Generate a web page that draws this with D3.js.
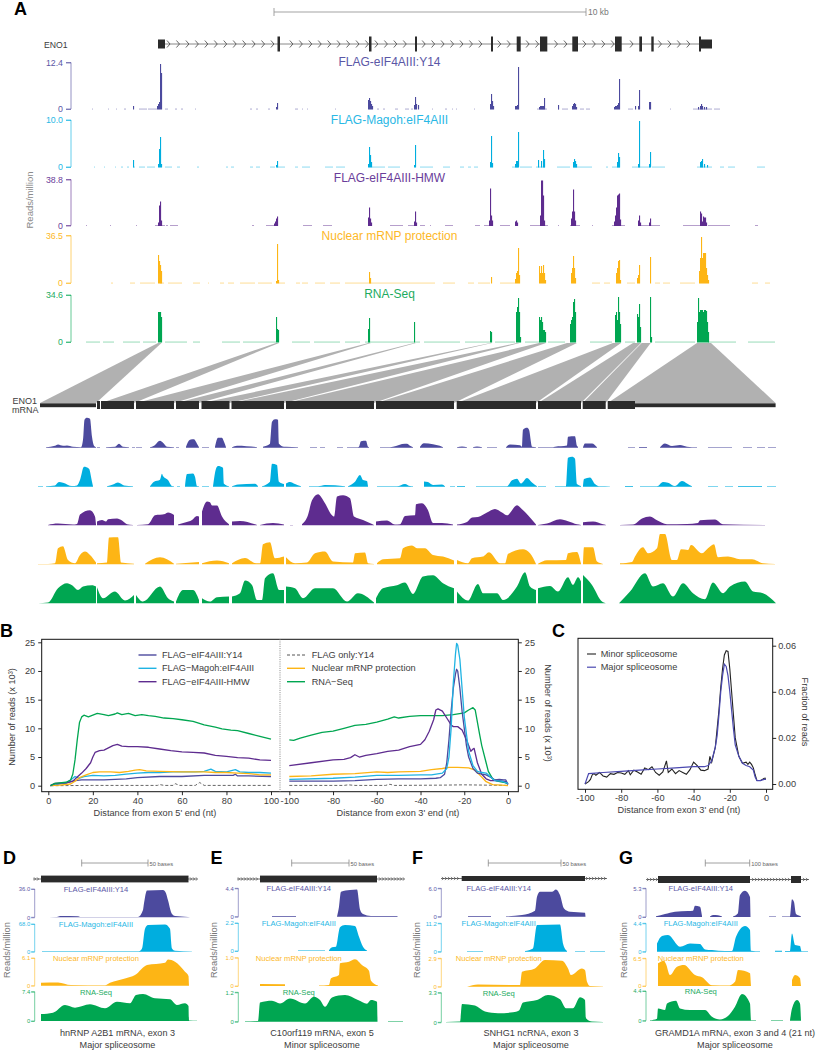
<!DOCTYPE html>
<html><head><meta charset="utf-8">
<script src="https://cdn.jsdelivr.net/npm/d3@7"></script>
<style>html,body{margin:0;padding:0;background:#fff}svg{display:block;font-family:"Liberation Sans",Arial,sans-serif}</style>
</head><body><svg id="c" width="816" height="1050"></svg>
<script>
// ---------- DATA ----------
const trackNames = ["FLAG-eIF4AIII:Y14","FLAG-Magoh:eIF4AIII","FLAG-eIF4AIII-HMW","Nuclear mRNP protection","RNA-Seq"];
const genomeMax = ["12.4","10.0","38.8","36.5","34.6"];
// genomic tracks: [position, signal]
const gY14 = [[157,3],[158,5],[159,7],[160,45],[161,36],[276,2],[277,6],[368,9],[369,11],[370,8],[371,5],[372,3],[414,4],[415,12],[416,5],[418,4],[133,3],[490,5],[491,15],[492,8],[493,3],[515,3],[516,3],[517,4],[518,42],[539,2],[540,3],[541,3],[542,3],[543,3],[544,11],[558,4],[572,3],[573,5],[574,6],[575,5],[576,2],[614,2],[615,3],[616,3],[617,4],[618,6],[619,30],[635,3],[638,3],[639,19],[649,7],[650,7],[698,2],[700,3],[701,5],[702,3],[704,2],[706,2]];
const gMagoh = [[133,7],[158,3],[159,18],[160,30],[161,3],[276,2],[277,6],[368,3],[369,20],[370,12],[371,5],[414,2],[415,22],[490,5],[491,31],[492,4],[515,3],[516,6],[517,6],[518,35],[538,7],[541,6],[543,17],[544,8],[573,5],[574,8],[575,6],[576,3],[617,5],[618,14],[619,10],[638,3],[639,46],[649,3],[650,15],[700,5],[701,6],[702,8],[704,3],[707,2]];
const gHMW = [[158,3],[159,20],[160,24],[161,5],[274,2],[275,4],[276,7],[277,9],[368,8],[369,18],[370,7],[371,3],[414,4],[415,14],[416,3],[489,5],[490,37],[491,10],[492,5],[515,4],[516,5],[517,3],[540,10],[541,45],[542,45],[543,30],[544,5],[571,7],[572,14],[573,36],[574,14],[575,5],[614,4],[615,10],[616,18],[617,30],[618,31],[619,32],[620,6],[638,5],[639,10],[640,3],[649,3],[650,7],[700,14],[701,12],[702,4],[703,9],[704,8],[705,8],[706,3]];
const gNuclear = [[158,28],[159,22],[160,18],[161,12],[276,2],[277,39],[278,3],[369,11],[370,5],[491,6],[515,4],[516,10],[517,12],[518,35],[519,8],[539,17],[540,10],[541,17],[542,10],[543,18],[544,10],[545,3],[571,10],[572,15],[573,27],[574,15],[575,5],[616,10],[617,15],[618,22],[619,23],[620,3],[637,5],[638,8],[639,18],[650,26],[699,12],[700,25],[701,46],[702,25],[703,30],[704,30],[705,30],[706,15],[707,8],[708,3]];
const gRNA = [[158,30],[159,30],[160,30],[161,25],[276,25],[277,13],[278,12],[368,13],[369,24],[414,20],[490,11],[491,10],[516,30],[517,35],[518,44],[519,30],[520,5],[539,25],[540,22],[541,25],[542,20],[543,12],[544,12],[545,10],[570,18],[571,22],[572,25],[573,40],[574,43],[575,30],[615,27],[616,30],[617,22],[618,45],[619,30],[620,18],[637,28],[638,25],[639,38],[640,15],[650,45],[651,5],[697,20],[698,44],[699,30],[700,32],[701,32],[702,32],[703,30],[704,32],[705,32],[706,31],[707,20],[708,10]];
// low background signal spans: [start, end]
const lowY14 = [[92,93],[108,109],[116,117],[124,126],[139,147],[148,157],[165,168],[175,177],[181,183],[195,196],[250,252],[256,258],[268,270],[295,298],[302,303],[307,308],[335,336],[377,379],[383,385],[395,398],[405,409],[411,413],[432,433],[445,447],[452,453],[456,457],[474,475],[537,547],[558,559],[562,568],[580,584],[586,590],[628,633],[670,671],[693,712],[714,720]];
const lowMagoh = [[94,95],[104,105],[115,116],[121,123],[127,129],[133,135],[139,145],[147,155],[165,172],[177,180],[197,199],[226,228],[231,234],[250,253],[256,260],[270,275],[277,285],[295,298],[302,310],[325,333],[336,345],[372,385],[388,400],[420,433],[443,450],[460,464],[468,471],[474,478],[512,518],[520,532],[536,545],[557,570],[573,592],[606,608],[612,620],[632,650],[652,665],[697,712],[720,724],[728,735],[757,765]];
const lowHMW = [[86,87],[110,111],[136,137],[155,165],[166,168],[170,178],[252,254],[266,278],[303,312],[323,332],[390,403],[408,415],[420,425],[430,431],[445,453],[475,480],[484,490],[500,510],[530,548],[558,559],[570,580],[592,593],[612,625],[640,660],[683,700],[708,730],[755,758]];
const lowNuclear = [[111,113],[130,135],[140,155],[160,164],[168,182],[193,200],[208,209],[220,224],[228,234],[240,255],[258,272],[279,285],[296,300],[302,308],[315,325],[330,340],[345,400],[400,435],[443,455],[468,474],[478,490],[500,515],[592,600],[604,610],[627,635],[655,660],[663,670],[680,695],[752,758],[765,770]];
const lowRNA = [[86,100],[103,114],[123,140],[143,156],[165,187],[193,200],[222,240],[243,276],[292,310],[314,340],[345,360],[365,420],[424,460],[465,490],[495,515],[525,540],[548,565],[590,612],[625,635],[655,695],[708,736],[748,775]];
// gene model exons: [start, end], tall and short parts
const exons = [[277.5,280],[369,371.5],[415,417],[491,493],[516.7,520.7],[540,547.3],[572.3,578],[615,621.7],[639.3,642],[651.3,653.7],[699,701]];
const geneUtrs = [[158,165],[701,712]];
// mRNA blocks and the genomic span of each block
const mrnaBlocks = [[97,100],[101,134],[136,174],[176,199],[201.5,229.5],[231.5,284],[286,374],[376,454],[456.7,536],[538,581],[582.7,605.7],[607.7,635]];
const mrnaUtr = [[40,96],[635,775.6]];
const links = [[158,161.5,40,96],[276,279,101,134],[368.5,371,136,174],[414,416,176,199],[490.5,492,201.5,229.5],[517,519.5,231.5,284],[539,546,286,374],[567,577,376,454],[613,621,456.7,536],[633,641,538,581],[641.7,650.7,582.7,605.7],[697,711,607.7,775.6]];
// mRNA coverage: [position, signal], null = no coverage
const mY14 = [[46,0.5],[55,2],[58,3.3],[63,2],[67,2.3],[73,1],[81,0.5],[83,8],[84.5,28],[87,30],[90,29],[92,11],[94,2],[96,0.5],null,[97,0.5],[100,0.5],null,[106,0.5],[115,1],[119,4],[123,1],[129,0.5],null,[132,0.5],[135,0.5],null,[136,0.5],[142,0.5],null,[150,0.5],[154,2],[160,7],[163,5],[167,1],[174,0.5],null,[176,0.5],[179,0.5],null,[186,1],[190,8],[194,8.5],[197,4],[199,0.5],null,[202,0.5],[209,0.5],null,[215,1],[218,10],[222,10],[224,6],[226,0.5],null,[232,0.5],[237,2],[257,0.5],null,[263,1],[270,4],[272,26],[275,28.5],[278,28],[279,4],[284,1],[286,1],[298,0.5],null,[310,0.5],[317,0.5],null,[320,0.5],[325,0.5],null,[337,0.5],[343,0.5],null,[347,0.5],[358,0.5],[359,1],[361,6.5],[366,7],[368,1],[369,0.5],null,[380,0.5],[390,0.5],[393,1],[405,4],[407,4],[410,2],[413,0.5],null,[420,1],[424,4.5],[433,3.5],[442,1],[443,0.5],null,[457,0.5],[462,1.3],[467,0.5],null,[473,0.5],[477,1.2],[482,0.5],null,[487,0.5],[497,0.5],null,[506,0.5],[510,3.3],[520,2.5],[522,1],[523,18],[527,20],[529,18],[532,1],[536,0.5],null,[538,0.4],[553,0.4],[555,1],[567,2.3],[568,11],[575,11.5],[577,1.7],[578,1],null,[583,0.5],[585,4.3],[592,4.3],[597,0.5],null,[628,0.4],[635,0.4],null,[639,0.7],[647,0.7],null,[660,0.5],[665,4.3],[672,1.7],[680,2.7],[687,1],[697,0.4],null,[708,0.5],[732,0.5],null,[743,0.4],[752,0.4],null,[757,0.4],[765,0.4],null,[768,0.4],[776,0.4]];
const mMagoh = [[38,0.4],[43,0.4],null,[46,0.5],[55,1.3],[59,4.7],[63,4],[72,0.7],[77,1.3],[80,6.7],[84,20],[89,18],[92,5],[93,0.5],null,[107,0.5],[113,2.3],[118,4.3],[124,1.3],[133,0.4],null,[150,0.4],[154,5],[160,7],[162,13],[163,10.7],[168,6.7],[172,0.7],[174,0.4],null,[177,0.4],[180,0.4],null,[185,0.5],[187,12.7],[193,13.3],[195,10],[197,0.7],[199,0.4],null,[202,0.4],[209,0.4],null,[213,0.5],[216,18],[218,20.7],[223,19],[224,3],[229,0.4],null,[232,0.5],[238,2.3],[255,3],[258,0.5],null,[262,0.5],[270,5],[272,23],[277,21.7],[279,5],[284,2.7],null,[286,3.3],[290,4.7],[295,2.7],[301,0.4],null,[309,0.4],[318,0.4],[325,1.7],[345,0.5],null,[348,0.5],[355,5],[360,11.7],[363,6.7],[367,5.7],[368,0.4],null,[377,0.5],[392,0.5],[397,0.5],[405,2.8],[410,0.7],[413,0.5],null,[424,5.3],[428,4.7],[433,1.7],[442,2.3],[445,0.4],null,[450,0.4],[455,0.4],null,[457,0.7],[465,0.7],null,[476,0.5],[503,0.5],[507,0.5],[512,6.5],[517,8],[521,3.3],[527,8.7],[532,4.3],[537,0.4],null,[538,0.4],[546,0.4],null,[555,0.5],[566,0.5],[568,29],[572,30],[575,28],[577,2.7],[581,0.7],null,[583,0.7],[584,7.7],[590,9.3],[595,2.7],[600,0.4],[610,0.3],null,[625,0.6],[633,0.6],null,[640,0.5],[648,0.5],[657,0.4],[663,4.7],[668,4],[675,0.7],[682,5.7],[687,3.3],[692,0.4],null,[708,0.4],[718,0.4],null,[725,0.4],[733,0.4],null,[738,0.7],[762,0.7],null,[767,0.4],[776,0.4]];
const mHMW = [[48,0.4],[58,1.7],[73,0.7],[77,1.3],[80,10.7],[90,15],[95,8.7],[96,0.7],null,[97,3.7],[102,5.3],[106,3.7],[108,6],[117,6.7],[122,4.7],[127,1],[133,0.4],null,[137,0.4],[148,1],[155,10],[165,11.3],[168,12.7],[174,10.3],null,[178,0.7],[185,2.7],[192,5.3],[197,9.3],[199,8.7],null,[202,13.7],[207,23.7],[210,23],[212,19.7],[217,19.7],[222,8.7],[229,1],null,[232,3.7],[240,4.3],[255,1],[257,0.4],null,[260,0.4],[273,2.3],[284,0.7],null,[290,0.4],[293,0.4],null,[302,1],[308,10.3],[312,25],[318,31],[325,22],[332,10],[334,8.7],[337,28.7],[343,30],[350,27],[354,8.7],[363,5.3],[372,1.3],[374,0.4],null,[376,3.7],[387,4.7],[395,0.7],[400,1],[405,9.3],[415,10],[416,21],[422,22],[428,15],[433,2.3],[442,2.3],[453,0.7],null,[457,0.7],[467,3.3],[472,7.7],[478,8.3],[487,12.7],[495,16.3],[502,12.7],[507,10],[517,20],[522,16],[528,10],[536,0.7],null,[538,0.4],[547,1.7],[560,6],[568,4],[577,1],[581,0.4],null,[583,3],[593,3.7],[603,1],[606,0.4],null,[620,0.4],[633,0.7],[642,6.7],[650,8.7],[657,5],[667,1],[687,1.3],[698,2.3],[700,5],[715,5.7],[723,1],[765,0.4]];
const mNuclear = [[38,0.4],[48,0.4],[55,1],[58,16],[63,18],[68,4.3],[75,1],[80,9.3],[85,12.7],[90,9.3],[96,1.7],null,[97,1],[107,1.7],[109,26.7],[118,27],[121,1.7],[134,0.5],null,[145,0.5],[160,7],[174,0.5],null,[176,0.5],[199,2.3],null,[202,1],[217,3.7],[229,1],null,[232,1],[245,6.3],[256,1],[260,1],[263,20],[270,22],[275,6],[284,7.7],null,[286,7],[295,1],[307,1.7],[315,11],[325,12.7],[333,2.7],[353,1.7],[355,11],[365,11.7],[368,1],[374,0.4],null,[377,1],[383,5],[400,6],[403,16],[412,18.7],[417,16],[425,16],[433,9.3],[443,7.7],[454,3.7],null,[457,4.3],[468,1],[472,6],[483,7.7],[489,12],[500,1],[505,1],[508,10.3],[523,15],[530,11],[536,0.4],null,[538,0.5],[547,4],[566,4.3],[568,11],[577,12.3],[581,0.7],null,[583,0.7],[584,17],[593,17],[597,2.7],[603,0.4],null,[620,1],[632,2.3],[635,7.7],[643,17],[648,11],[657,16],[660,30.3],[665,30.3],[672,4.3],[677,4.3],[681,15],[688,14.3],[691,19.3],[702,11],[708,16],[714,20],[718,7],[728,7.7],[740,5],[752,5],[763,1],[775,0.4]];
const mRNA = [[38,0],[48,0.7],[58,15],[67,20],[72,18],[78,13.3],[83,16.7],[92,18],[96,16.7],null,[97,16],[103,5],[115,11.7],[125,2.7],[134,8.3],null,[136,8.3],[143,1.7],[160,16.7],[168,5],[174,1.7],null,[176,1.7],[183,13.3],[193,13.3],[199,3.3],null,[202,5],[210,1.7],[217,6],[229,6.7],null,[232,6.7],[240,10],[245,22.7],[252,18.3],[257,3.3],[262,3.3],[265,25],[273,30],[279,13.3],[284,13.3],null,[286,16.7],[295,15],[303,5],[315,15],[333,15],[347,1.7],[358,10],[374,0.7],null,[376,5],[383,15],[397,18],[405,20.7],[413,9.3],[423,26.7],[433,28],[443,20],[454,15],null,[457,11.7],[468,2.7],[478,19.3],[483,10],[497,10],[503,3.3],[517,16.7],[525,31],[530,16.7],[536,13.3],null,[538,15],[550,17.3],[558,11.7],[568,26],[573,18.3],[578,26],[581,21.7],null,[583,28.3],[592,18.3],[602,1.7],[606,0],null,[619,0],[630,11.7],[645,30],[653,16.7],[663,20],[673,6.7],[683,20],[693,10],[705,4],[713,20.7],[723,10],[730,16.7],[745,21.7],[753,11.7],[763,10],[776,0]];
// Panel B: [distance, reads x 10^3]
const b5RNA = [[1,0],[3,0.4],[8,0.6],[10,1],[11,2],[12,4.5],[13,8],[14,11],[15,12],[16,12.3],[18,12],[20,12.3],[22,12.6],[25,12.4],[27,12.2],[30,12.5],[31,12.7],[33,12.4],[36,12.6],[39,12.2],[42,12.4],[45,12.2],[48,12.1],[52,11.8],[56,11.7],[60,11.5],[65,11.2],[70,10.6],[75,10.2],[78,9.9],[82,9.7],[85,9.6],[90,9.1],[95,8.6],[100,8.1]];
const b5HMW = [[1,0],[3,0.4],[8,0.5],[11,0.8],[13,1.5],[15,2.2],[17,3],[19,4],[20,5],[21,5.8],[23,6.1],[25,6.2],[27,6.6],[29,7],[31,7.2],[33,6.9],[36,6.8],[40,6.8],[45,6.7],[50,6.4],[55,6.1],[60,5.9],[65,5.8],[70,5.7],[75,5.3],[80,5.1],[85,4.9],[90,4.8],[95,4.5],[100,4.4]];
const b5Y14 = [[1,0],[3,0.2],[8,0.5],[12,0.9],[15,1],[20,1],[25,1],[30,1.1],[35,1.2],[40,1.4],[50,1.6],[60,1.6],[70,1.8],[80,1.8],[83,1.8],[84,2],[85,1.7],[90,1.7],[100,1.6]];
const b5Magoh = [[1,0],[3,0.3],[8,0.5],[10,1],[12,1.6],[14,1.3],[16,1.6],[20,1.8],[25,1.7],[30,1.8],[35,2],[40,2.2],[45,2.3],[50,2.3],[56,2.4],[60,2.4],[66,2.4],[70,2.5],[73,2.9],[75,2.5],[80,2.4],[84,2.8],[86,2.4],[90,2.3],[95,2.3],[100,2.2]];
const b5Nuclear = [[1,0],[5,0.1],[10,0.3],[12,0.8],[14,1.4],[17,1.9],[20,2.3],[23,2.4],[28,2.4],[32,2.3],[36,2.5],[39,2.7],[41,2.8],[44,2.6],[50,2.5],[60,2.4],[70,2.4],[75,2.3],[80,2.3],[85,2.2],[90,2.1],[95,1.9],[100,1.9]];
const b5Flag = [[1,0],[20,0.05],[49,0.05],[50,0.2],[52,0.05],[56,0.05],[57,0.35],[59,0.05],[66,0.05],[68,0.55],[70,0.05],[100,0.05]];
const b3RNA = [[-100,8],[-98,7.9],[-95,8.3],[-90,8.8],[-85,9.3],[-80,9.5],[-75,10],[-70,10.5],[-65,10.7],[-60,11.1],[-55,11.6],[-52,12],[-50,11.8],[-45,12.1],[-40,12.2],[-35,12.2],[-30,12.2],[-25,12.4],[-20,12.7],[-18,13.2],[-16,13.6],[-15,13.2],[-13,9],[-12,7],[-10,4],[-9,2.5],[-7,1.2],[-5,0.8],[-2,0.6],[0,0.3]];
const b3HMW = [[-100,3.5],[-90,4],[-80,4.5],[-75,4.6],[-72,4.9],[-70,5.4],[-68,5],[-65,5.3],[-60,5.6],[-55,6],[-50,6.2],[-45,6.8],[-40,7.2],[-38,8],[-36,9.5],[-34,11.5],[-33,13.2],[-32,13.4],[-30,13],[-28,11.8],[-26,10.6],[-25,10.3],[-23,10.3],[-21,9.7],[-19,8],[-17,6],[-16,6.4],[-15.5,6.5],[-14,4],[-12,2],[-10,1.2],[-8,0.9],[-4,0.9],[-1,0.7],[0,0.3]];
const b3Y14 = [[-100,0.8],[-90,0.8],[-80,0.8],[-70,0.9],[-60,1.1],[-50,1.2],[-40,1.2],[-33,1.3],[-31,1.4],[-29,2],[-28,4],[-27,8],[-26,13],[-25,17],[-24,19.5],[-23.5,20.3],[-23,20],[-22,17],[-21,13],[-20,10],[-19,7],[-18,5],[-16,3],[-14,2.2],[-12,2],[-10,1.9],[-8,1.5],[-6,1],[-4,1.1],[-2,1],[-1,1],[0,0.2]];
const b3Magoh = [[-100,1.1],[-80,1.3],[-70,1.5],[-60,1.8],[-50,1.8],[-40,1.9],[-35,1.9],[-30,2.2],[-28,3],[-27,5],[-26,10],[-25,18],[-24,23],[-23.5,24.8],[-23,24.5],[-22,22],[-21,17],[-20,12],[-19,9],[-18,6],[-16,3.5],[-14,2.5],[-12,2.3],[-10,2.2],[-8,1.5],[-6,0.9],[-3,0.8],[0,0.4]];
const b3Nuclear = [[-100,1.6],[-90,1.7],[-80,2],[-70,2.1],[-60,2.4],[-55,2.3],[-50,2.4],[-40,2.5],[-35,2.8],[-30,3],[-27,3.2],[-23,3.2],[-18,3.1],[-15,2.7],[-12,1.5],[-10,0.7],[-7,0.2],[-3,0.1],[0,0]];
const b3Flag = [[-100,0.05],[-75,0.05],[-73,0.15],[-70,0.05],[-56,0.05],[-54,0.25],[-52,0.05],[-30,0.1],[-20,0.15],[0,0.05]];
const bLegendLeft = ["FLAG\u2212eIF4AIII:Y14","FLAG\u2212Magoh:eIF4AIII","FLAG\u2212eIF4AIII-HMW"];
const bLegendRight = ["FLAG only:Y14","Nuclear mRNP protection","RNA\u2212Seq"];
// Panel C: [distance, fraction]
const cMajor = [[-100,0],[-98,0.0045],[-90,0.005],[-80,0.0055],[-70,0.006],[-60,0.0065],[-50,0.007],[-40,0.0075],[-34,0.0075],[-32,0.008],[-30,0.01],[-28,0.016],[-27,0.021],[-26,0.03],[-25,0.04],[-24,0.047],[-23,0.052],[-22,0.051],[-21,0.047],[-20,0.04],[-19,0.032],[-18,0.024],[-17,0.017],[-15,0.012],[-13,0.009],[-11,0.008],[-9,0.0075],[-7,0.006],[-6,0.003],[-5,0.0015],[-3,0.0015],[-1,0.002],[0,0.002]];
const cMinor = [[-100,0],[-98,0.001],[-97,0.002],[-96,0.004],[-95,0.0045],[-94,0.0038],[-92,0.005],[-90,0.0035],[-88,0.003],[-86,0.0045],[-84,0.0042],[-82,0.005],[-80,0.0048],[-78,0.0042],[-76,0.0058],[-75,0.004],[-73,0.006],[-71,0.0052],[-69,0.0042],[-67,0.007],[-65,0.0062],[-63,0.0075],[-61,0.005],[-59,0.0038],[-57,0.0052],[-55,0.01],[-54,0.005],[-52,0.0065],[-50,0.0045],[-48,0.0058],[-46,0.005],[-44,0.0042],[-42,0.0062],[-40,0.0095],[-38,0.008],[-36,0.006],[-34,0.0058],[-32,0.0065],[-31,0.012],[-30,0.0095],[-28,0.016],[-26,0.032],[-25,0.042],[-24,0.05],[-23,0.056],[-22,0.0578],[-21,0.0575],[-20,0.05],[-19,0.04],[-18,0.03],[-17,0.02],[-15,0.012],[-13,0.009],[-11,0.0095],[-10,0.0085],[-9,0.0095],[-8,0.0085],[-7,0.007],[-6,0.004],[-5,0.0015],[-3,0.0015],[-2,0.002],[-1,0.0025],[0,0.0025]];
// Panels D-G coverage: [position, signal]
const dY14 = [[41,0],[57,0.3],[60,1.3],[78,1],[80,0.3],[138,0.3],[143,7.3],[144,14],[147,26.7],[163,27.3],[166,24],[168,17],[172,3.3],[175,1.3],[188,0.4],[192,0]];
const dMagoh = [[42,0.4],[60,0.4],[139,0.5],[142,3.3],[145,23],[148,26.7],[165,27.3],[170,23],[172,3.3],[175,1],[192,0.3]];
const dNuclear = [[41,3],[58,3.3],[71,0.7],[105,0.4],[110,3],[125,7.3],[135,10.7],[147,20.7],[165,23],[168,26.3],[175,24],[185,14],[188.5,9.7],[189,0]];
const dRNA = [[41,7],[53,8.3],[65,16],[75,13.3],[90,16.7],[105,12.7],[117,19.3],[130,17.7],[136,26],[143,27],[155,22.7],[170,21.7],[177,16],[185,17.7],[188.5,15],[189,0.4],[197,0.2]];
const eY14 = [[272,0.6],[296,0.6],null,[337,0],[339,10],[341,25],[350,26.7],[357,27.3],[360,7.3],[363,2.7],[371,0.7],[397.5,0.6]];
const eMagoh = [[298,0.6],[325,0.6],null,[329,0.7],[332,3.7],[336,4.3],[340,23.7],[345,26],[355,25],[359,14.3],[363,4.3],[367,0.4]];
const eNuclear = [[260,2],[285,1.7],null,[319,0.4],[329,1],[331,7.7],[339,11],[340,22.7],[349,24.3],[355,26.7],[362,21],[369,15.3],[371,5.3],[378,0.4]];
const eRNA = [[245,0.4],[258,0.7],[260,19.3],[272,21],[280,18.3],[290,23.3],[305,18.3],[314,25],[320,21.7],[325,15],[332,24.3],[345,26.7],[358,21.7],[367,18],[371,21.7],[377,20],[377.5,0.2],null,[388,0.5],[403,0.5]];
const fY14 = [[468,0.6],[491,0.6],null,[506,0.4],[522,1.7],[535,6],[537,20],[540,25],[552,25],[556,27.3],[560,21.7],[564,8.3],[570,5],[585,4],[585.5,0]];
const fMagoh = [[467,0.5],[483,0.5],null,[525,0.7],[533,3.3],[537,26.7],[560,27.3],[563,8.3],[567,0.7],null,[575,0.4],[585,0.4],null,[590,0.4],[605,0.4]];
const fNuclear = [[467,0],[478,2.3],[520,1.7],[522,15],[535,18.3],[545,26.7],[562,26],[568,18.3],[571,11.7],[582,18.3],[585,16.7],[587,5],[590,0.7],[603,0.2]];
const fRNA = [[446,0.4],[460,0.7],[462,18.3],[475,16.7],[485,10.7],[498,9],[513,10],[519,11.7],[523,19.7],[537,22.3],[548,27.3],[560,23],[566,14],[573,14],[580,25],[585,22.3],[586,4],[592,0.7],[603,0.3]];
const gmY14 = [[656,0.7],[665,3],[675,5.3],[688,6],[693,6.3],[695,11.3],[700,10.3],[702,1],null,[710,0.4],[713,2],[718,1.7],[722,0.4],null,[733,0.4],[738,3.7],[740,22],[745,26.3],[750,20],[750.5,0],null,[769,0.5],[776,0.5],null,[782,0.5],[790,0.5],[792,17.7],[794,15],[796,3],[800,1],[801,0.4]];
const gmMagoh = [[657,8.3],[662,15.7],[668,16.7],[680,5],[690,8.3],[700,7.7],[705,2.3],[712,1.7],[725,0.7],[732,0.7],[736,15],[745,25.7],[750,21.7],[751,1],[760,0.4],null,[775,1],[782,1],null,[785,0.7],[790,0.7],[792,18.3],[795,6.7],[800,5.7],[801.5,0.5],[808,0.5]];
const gmNuclear = [[658,22.7],[664,25.3],[666,22],[670,11],[677,19.3],[684,21],[695,11],[702,8.7],[712,0.7],[728,0.4],[735,4.3],[738,16],[750,12.7],[751,0],null,[792,6],[795,11],[800,7.7],[801,0]];
const gmRNA = [[650,0.4],[657,2],[658,12.3],[665,10.7],[667,17.3],[676,20],[680,12.3],[690,10.7],[705,10.7],[712,4],[720,1.3],[728,4.7],[735,14],[742,26.7],[750,17.3],[751,0.4],[756,0.4],null,[771,0.4],[783,0.4],null,[790,0.4],[792,12.3],[797,20.7],[800,17.3],[801,0.4]];
const dMax = ["36.0","68.0","6.1","7.4"], eMax = ["4.4","2.2","1.0","1.2"], fMax = ["6.0","11.2","2.9","3.3"], gmMax = ["5.3","4.4","6.5","4.4"];
const miniNames = ["FLAG-eIF4AIII:Y14","FLAG-Magoh:eIF4AIII","Nuclear mRNP protection","RNA-Seq"];

// ---------- STYLE ----------
const FONT_GRAY = "#3c3c3c";
const cY14="#4C4A9E", cMagoh="#00AEDF", cHMW="#5E2C8F", cNuc="#FDB515", cRNA="#00A651";
const colors5=[cY14,cMagoh,cHMW,cNuc,cRNA], colors4=[cY14,cMagoh,cNuc,cRNA];
const labelColors5=["#5B57A6","#29B8E5","#6A3D9A","#FDB827","#1DAB5F"];
const pxScale = d3.scaleLinear().domain([0,816]).range([0,816]);

const svg=d3.select("#c");
function text(x,y,s,o={}){
  const t=svg.append("text").attr("x",x).attr("y",y).text(s)
   .attr("font-size",o.size||9).attr("fill",o.fill||FONT_GRAY)
   .attr("text-anchor",o.anchor||"start");
  if(o.weight)t.attr("font-weight",o.weight);
  if(o.rotate!=null)t.attr("transform",`rotate(${o.rotate} ${x} ${y})`);
  return t;
}
// panel letters
[["A",14,14.5],["B",0,637],["C",552,637],["D",3,864],["E",210.5,864],["F",412,864],["G",619,864]].forEach(d=>text(d[1],d[2],d[0],{size:18,weight:"bold",fill:"#000"}));

// ---------- PANEL A genome ----------
svg.append("path").attr("d","M274 8V16M274 12H586M586 8V16").attr("stroke","#999").attr("fill","none").attr("stroke-width",0.9);
text(588,14.5,"10 kb",{size:8.5,fill:"#777"});
text(44,48,"ENO1",{size:8.7});
svg.append("line").attr("x1",158).attr("x2",700).attr("y1",44).attr("y2",44).attr("stroke","#888").attr("stroke-width",1);
svg.append("g").selectAll("path").data(d3.range(167,698,9.45).filter(p=>!exons.some(e=>p>e[0]-3&&p<e[1]+1))).join("path")
  .attr("d",p=>`M${pxScale(p)} 40.5L${pxScale(p)+3} 44L${pxScale(p)} 47.5`).attr("fill","none").attr("stroke","#444").attr("stroke-width",0.8);
svg.append("g").selectAll("rect").data(exons).join("rect")
  .attr("x",d=>pxScale(d[0])).attr("width",d=>pxScale(d[1])-pxScale(d[0])).attr("y",36.5).attr("height",15).attr("fill","#2b2b2b");
svg.append("g").selectAll("rect").data(geneUtrs).join("rect")
  .attr("x",d=>pxScale(d[0])).attr("width",d=>pxScale(d[1])-pxScale(d[0])).attr("y",39.5).attr("height",9).attr("fill","#2b2b2b");

const gTops=[62.5,120,179.5,235.5,295], gBases=[109,167,225.5,283,342];
const gData=[gY14,gMagoh,gHMW,gNuclear,gRNA], gLow=[lowY14,lowMagoh,lowHMW,lowNuclear,lowRNA];
const gLabelY=[65.5,124,182,240,298];
trackNames.forEach((n,i)=>{
  const c=colors5[i], top=gTops[i], base=gBases[i];
  const axisY=d3.scaleLinear().domain([0,+genomeMax[i]]).range([base,top]);
  const ax=svg.append("g").attr("transform","translate(71,0)").call(d3.axisLeft(axisY).tickValues([0,+genomeMax[i]]).tickSize(5).tickPadding(3).tickFormat((d)=>d===0?"0":genomeMax[i]));
  ax.selectAll("path,line").attr("stroke",c).attr("stroke-opacity",0.6).attr("stroke-width",1);
  ax.selectAll("text").attr("fill",labelColors5[i]).attr("font-size",8.8).attr("font-family","inherit");
  ax.select("path").attr("d",`M-5 ${top}H0V${base}H-5`);
  text(389.5,gLabelY[i],n,{size:12,fill:labelColors5[i],anchor:"middle"});
  const h=d3.scaleLinear().domain([0,base-top]).range([0,base-top]);
  svg.append("g").selectAll("rect").data(gLow[i]).join("rect")
    .attr("x",d=>pxScale(d[0])).attr("width",d=>pxScale(d[1])-pxScale(d[0]))
    .attr("y",base-0.4).attr("height",0.9).attr("fill",c).attr("fill-opacity",i===4?0.45:0.5);
  svg.append("g").selectAll("rect").data(gData[i]).join("rect")
    .attr("x",d=>pxScale(d[0])).attr("width",1.1)
    .attr("y",d=>base-h(d[1])).attr("height",d=>h(d[1])+0.5).attr("fill",c);
});
text(33,200,"Reads/million",{size:9.5,fill:"#8a8a8a",anchor:"middle",rotate:-90});

// links
svg.append("g").selectAll("path").data(links).join("path")
  .attr("d",d=>`M${pxScale(d[0])} 343L${pxScale(d[1])} 343L${pxScale(d[3])} 403L${pxScale(d[2])} 403Z`).attr("fill","#B1B1B1");
// mRNA
svg.append("g").selectAll("rect").data(mrnaUtr).join("rect")
  .attr("x",d=>pxScale(d[0])).attr("width",d=>pxScale(d[1])-pxScale(d[0])).attr("y",403.3).attr("height",3.9).attr("fill","#2b2b2b");
svg.append("g").selectAll("rect").data(mrnaBlocks).join("rect")
  .attr("x",d=>pxScale(d[0])).attr("width",d=>pxScale(d[1])-pxScale(d[0])).attr("y",401).attr("height",8).attr("fill","#2b2b2b");
text(37,403.5,"ENO1",{size:9,anchor:"end"});
text(38.5,413,"mRNA",{size:9,anchor:"end"});

const mData=[mY14,mMagoh,mHMW,mNuclear,mRNA], mBases=[447.7,486.7,525.3,564.3,603.3];
function coverage(data,base,H,color){
  const y=d3.scaleLinear().domain([0,H]).range([base,base-H]);
  const area=d3.area().defined(d=>d!==null).x(d=>pxScale(d[0])).y0(base).y1(d=>y(d[1])).curve(d3.curveMonotoneX);
  svg.append("path").datum(data).attr("d",area).attr("fill",color);
}
mData.forEach((d,i)=>coverage(d,mBases[i],32,colors5[i]));

// ---------- PANEL B ----------
const bY=d3.scaleLinear().domain([0,25]).range([785.7,642.3]);
const bXL=d3.scaleLinear().domain([0,100]).range([48.3,271]);
const bXR=d3.scaleLinear().domain([-100,0]).range([289.3,508]);
function styleAxis(a,size){a.selectAll("path").remove();a.selectAll("line").attr("stroke","#111").attr("stroke-width",0.9);a.selectAll("text").attr("font-size",size||9.2).attr("fill",FONT_GRAY).attr("font-family","inherit");return a;}
const fmt=d=>String(d);
styleAxis(svg.append("g").attr("transform","translate(41.7,0)").call(d3.axisLeft(bY).tickValues([0,5,10,15,20,25]).tickSize(3.5).tickPadding(3).tickFormat(fmt)));
styleAxis(svg.append("g").attr("transform","translate(518.3,0)").call(d3.axisRight(bY).tickValues([0,5,10,15,20,25]).tickSize(3.5).tickPadding(3).tickFormat(fmt)));
styleAxis(svg.append("g").attr("transform","translate(0,791.7)").call(d3.axisBottom(bXL).tickValues([0,20,40,60,80,100]).tickSize(3.5).tickPadding(1.8).tickFormat(fmt)));
styleAxis(svg.append("g").attr("transform","translate(0,791.7)").call(d3.axisBottom(bXR).tickValues([-100,-80,-60,-40,-20,0]).tickSize(3.5).tickPadding(1.8).tickFormat(fmt)));
svg.append("rect").attr("x",41.7).attr("y",639.3).attr("width",476.6).attr("height",152.4).attr("fill","none").attr("stroke","#111").attr("stroke-width",1);
svg.append("line").attr("x1",280).attr("x2",280).attr("y1",639.3).attr("y2",791.7).attr("stroke","#888").attr("stroke-dasharray","1 1.2").attr("stroke-width",1);
function bLines(x,list){
  const line=d3.line().x(d=>x(d[0])).y(d=>bY(d[1]));
  list.forEach(s=>{const p=svg.append("path").datum(s[0]).attr("d",line).attr("fill","none").attr("stroke",s[1]).attr("stroke-width",s[2]||1.3).attr("stroke-linejoin","round");if(s[3])p.attr("stroke-dasharray",s[3]);});
}
bLines(bXL,[[b5Flag,"#555",0.9,"3 2"],[b5Y14,cY14],[b5Magoh,"#1FB3E3"],[b5Nuclear,cNuc],[b5HMW,cHMW],[b5RNA,cRNA]]);
bLines(bXR,[[b3Flag,"#555",0.9,"3 2"],[b3Nuclear,cNuc],[b3RNA,cRNA],[b3HMW,cHMW],[b3Y14,cY14],[b3Magoh,"#1FB3E3"]]);
const legY=[655,668.3,681.7];
[cY14,"#1FB3E3",cHMW].forEach((c,i)=>{svg.append("line").attr("x1",138.5).attr("x2",156.5).attr("y1",legY[i]).attr("y2",legY[i]).attr("stroke",c).attr("stroke-width",1.4);text(162,legY[i]+3,bLegendLeft[i],{size:9.2});});
["#555",cNuc,cRNA].forEach((c,i)=>{const l=svg.append("line").attr("x1",287).attr("x2",305).attr("y1",legY[i]).attr("y2",legY[i]).attr("stroke",c).attr("stroke-width",i?1.4:1);if(!i)l.attr("stroke-dasharray","3 2");text(311.7,legY[i]+3,bLegendRight[i],{size:9.2});});
text(15,717,"Number of reads (x 10\u00B3)",{size:9.2,anchor:"middle",rotate:-90});
text(545,713,"Number of reads (x 10\u00B3)",{size:9.2,anchor:"middle",rotate:90});
text(155,816,"Distance from exon 5' end (nt)",{size:9.2,anchor:"middle"});
text(398,816,"Distance from exon 3' end (nt)",{size:9.2,anchor:"middle"});

// ---------- PANEL C ----------
const cY=d3.scaleLinear().domain([0,0.06]).range([784,645.7]);
const cX=d3.scaleLinear().domain([-100,0]).range([585,766]);
styleAxis(svg.append("g").attr("transform","translate(772.7,0)").call(d3.axisRight(cY).tickValues([0,0.02,0.04,0.06]).tickSize(3.5).tickPadding(2).tickFormat(d3.format(".2f"))));
styleAxis(svg.append("g").attr("transform","translate(0,789.3)").call(d3.axisBottom(cX).tickValues([-100,-80,-60,-40,-20,0]).tickSize(3.5).tickPadding(1.8).tickFormat(fmt)));
svg.append("rect").attr("x",578).attr("y",638.3).attr("width",194.7).attr("height",151).attr("fill","none").attr("stroke","#111").attr("stroke-width",1);
const cLine=d3.line().x(d=>cX(d[0])).y(d=>cY(d[1]));
svg.append("path").datum(cMinor).attr("d",cLine).attr("fill","none").attr("stroke","#222").attr("stroke-width",1.1);
svg.append("path").datum(cMajor).attr("d",cLine).attr("fill","none").attr("stroke","#4A48B0").attr("stroke-width",1.2);
[["Minor spliceosome","#333"],["Major spliceosome","#4A48B0"]].forEach((d,i)=>{const y=654+i*13.2;svg.append("line").attr("x1",587).attr("x2",596).attr("y1",y).attr("y2",y).attr("stroke",d[1]).attr("stroke-width",1.2);text(600.7,y+3,d[0],{size:9.2});});
text(802,712,"Fraction of reads",{size:9.2,anchor:"middle",rotate:90});
text(679,813,"Distance from exon 3' end (nt)",{size:9.2,anchor:"middle"});

// ---------- PANELS D-G ----------
const miniPanels=[
 {bar:[81.7,148],label:"50 bases",thin:[33,197],thick:[[41,188.5]],geneY:879,geneH:6.8,axX:34.7,tops:[889,924,958,991.7],bases:[917.3,951.7,985.7,1021],max:dMax,data:[dY14,dMagoh,dNuclear,dRNA],cx:96,rm:10,cap:["hnRNP A2B1 mRNA, exon 3","Major spliceosome"],capX:117.5},
 {bar:[291.7,349],label:"50 bases",thin:[237,404],thick:[[260,377]],geneY:879,geneH:6.8,axX:238.3,tops:[888.3,923,957.7,992.3],bases:[916.7,951,986,1021.7],max:eMax,data:[eY14,eMagoh,eNuclear,eRNA],cx:298.8,rm:217,cap:["C10orf119 mRNA, exon 5","Minor spliceosome"],capX:322},
 {bar:[488.3,561],label:"50 bases",thin:[441,607],thick:[[461.7,585]],geneY:878.5,geneH:5,axX:441.3,tops:[888.3,923.3,958.3,992.7],bases:[916.7,951.7,986.7,1022.3],max:fMax,data:[fY14,fMagoh,fNuclear,fRNA],cx:498.7,rm:419.7,cap:["SNHG1 ncRNA, exon 3","Major spliceosome"],capX:531},
 {bar:[705.3,749.7],label:"100 bases",thin:[646,809],thick:[[658,750],[791,801]],geneY:879.5,geneH:7,axX:646,tops:[888.3,923.3,958.3,991],bases:[917,951.7,986,1020.7],max:gmMax,data:[gmY14,gmMagoh,gmNuclear,gmRNA],cx:700.8,rm:626.7,cap:["GRAMD1A mRNA, exon 3 and 4 (21 nt)","Major spliceosome"],capX:735}
];
const miniLabelColors=[labelColors5[0],labelColors5[1],labelColors5[3],labelColors5[4]];
miniPanels.forEach(p=>{
  svg.append("path").attr("d",`M${p.bar[0]} 859.5V866.5M${p.bar[0]} 863H${p.bar[1]}M${p.bar[1]} 859.5V866.5`).attr("stroke","#888").attr("fill","none").attr("stroke-width",0.8);
  text(p.bar[1]+1.5,866,p.label,{size:5.8,fill:"#666"});
  svg.append("line").attr("x1",p.thin[0]).attr("x2",p.thin[1]).attr("y1",p.geneY).attr("y2",p.geneY).attr("stroke","#333").attr("stroke-width",0.7);
  svg.append("g").selectAll("path").data(d3.range(p.thin[0]+1,p.thin[1],3).filter(v=>!p.thick.some(t=>v>t[0]-2&&v<t[1]))).join("path")
    .attr("d",v=>`M${v} ${p.geneY-1.6}L${v+1.6} ${p.geneY}L${v} ${p.geneY+1.6}`).attr("fill","none").attr("stroke","#222").attr("stroke-width",0.6);
  svg.append("g").selectAll("rect").data(p.thick).join("rect").attr("x",d=>d[0]).attr("width",d=>d[1]-d[0]).attr("y",p.geneY-p.geneH/2).attr("height",p.geneH).attr("fill","#2b2b2b");
  miniNames.forEach((n,i)=>{
    const c=colors4[i],top=p.tops[i],base=p.bases[i];
    const axisY=d3.scaleLinear().domain([0,+p.max[i]]).range([base,top]);
    const ax=svg.append("g").attr("transform",`translate(${p.axX},0)`).call(d3.axisLeft(axisY).tickValues([0,+p.max[i]]).tickSize(3.5).tickPadding(1).tickFormat(d=>d===0?"0":p.max[i]));
    ax.selectAll("path,line").attr("stroke",c).attr("stroke-opacity",0.6).attr("stroke-width",0.9);
    ax.select("path").attr("d",`M-3.5 ${top}H0V${base}H-3.5`);
    ax.selectAll("text").attr("fill",miniLabelColors[i]).attr("font-size",5.9).attr("font-family","inherit");
    coverage(p.data[i],base,28,c);
    text(p.cx,top+2.8,n,{size:7.6,fill:miniLabelColors[i],anchor:"middle"});
  });
  text(p.rm,950,"Reads/million",{size:9.3,fill:"#777",anchor:"middle",rotate:-90});
  text(p.capX,1036,p.cap[0],{size:9.1,anchor:"middle"});
  text(p.capX,1048,p.cap[1],{size:9.1,anchor:"middle"});
});
</script></body></html>
